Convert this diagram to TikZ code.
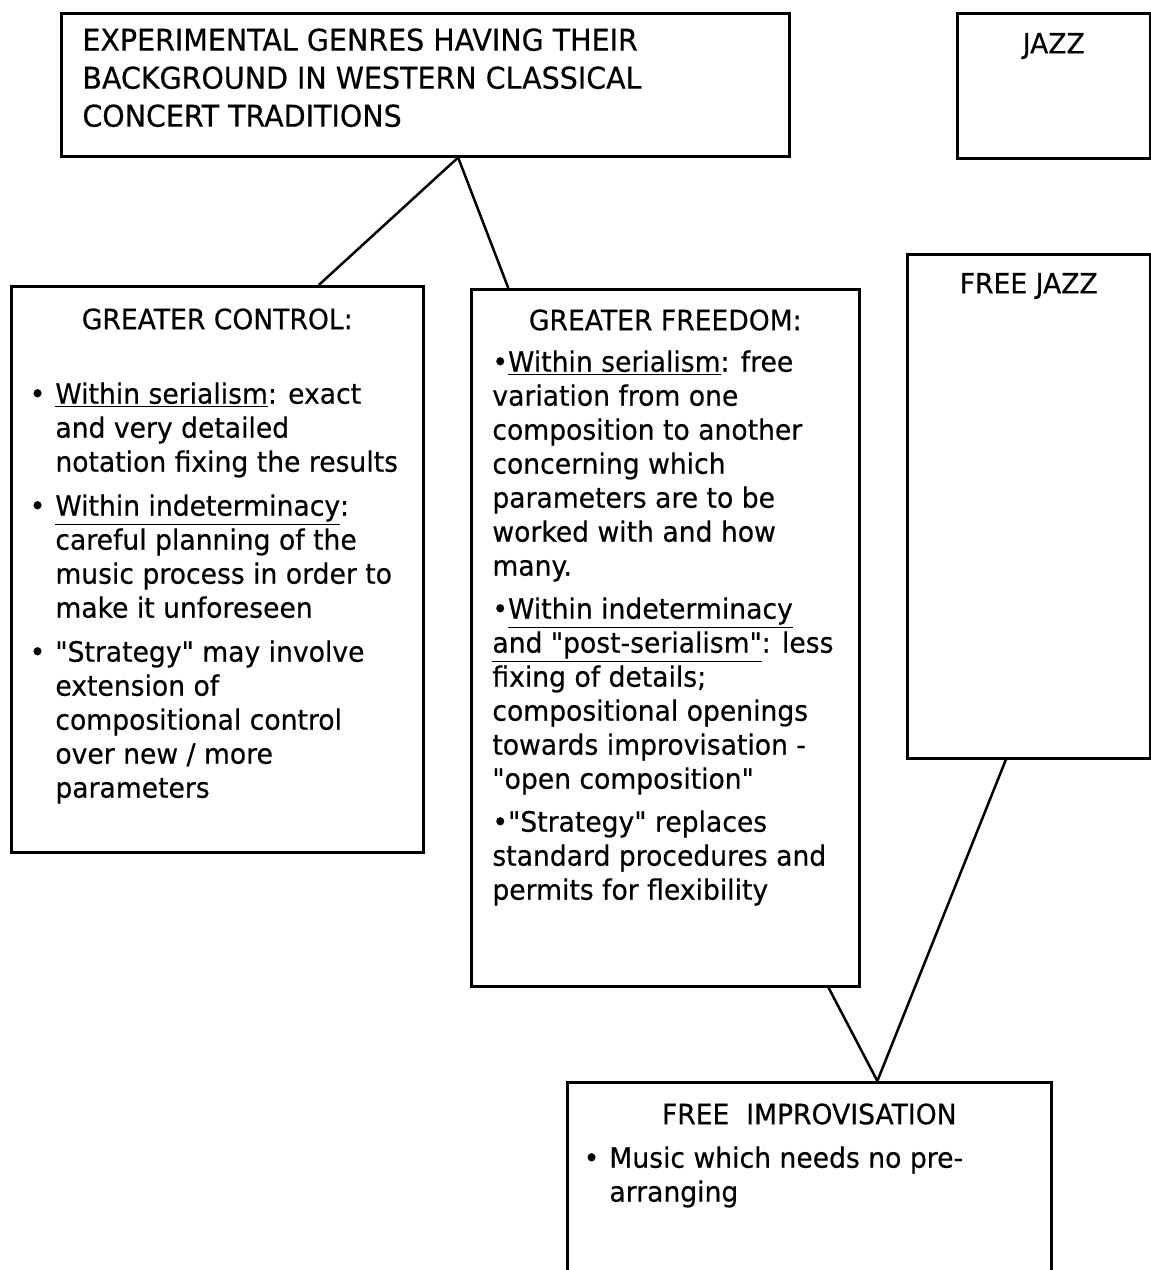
\documentclass[tikz,border=0pt]{standalone}
\usepackage{fontspec}
\setmainfont{DejaVu Sans}[FakeStretch=0.95, FakeBold=0.5, Ligatures=TeXOff]
\usetikzlibrary{calc,positioning}
\tikzset{
  box/.style={draw, line width=1.25pt, inner sep=0pt, anchor=north west},
  title/.style={inner sep=0pt, font=\fontsize{14}{17}\selectfont},
  body/.style={inner sep=0pt, anchor=north west, align=left, font=\fontsize{14}{17}\selectfont},
  link/.style={line width=1.25pt},
}
\newcommand{\bul}{\llap{\textbullet\hspace{5pt}}}

\begin{document}
\begin{tikzpicture}[x=0.5pt, y=-0.5pt]
  \useasboundingbox (0, 0) rectangle (1151, 1270);
  \clip (0, 0) rectangle (1151, 1270);

  \node [box, minimum width=364pt, minimum height=71.5pt] (top) at (60, 12) {};
  \node [box, minimum width=96.5pt, minimum height=72.5pt] (jazz) at (956, 12) {};
  \node [box, minimum width=121.5pt, minimum height=252pt] (freejazz) at (906, 253) {};
  \node [box, minimum width=206pt, minimum height=283pt] (control) at (10, 285) {};
  \node [box, minimum width=194pt, minimum height=348.5pt] (freedom) at (470, 288) {};
  \node [box, minimum width=242pt, minimum height=110pt] (impro) at (566, 1081) {};

  \node [body, font=\fontsize{15}{19}\selectfont] (toptext) at (82, 28)
    {EXPERIMENTAL GENRES HAVING THEIR\\
     BACKGROUND IN WESTERN CLASSICAL\\
     CONCERT TRADITIONS};
  \node [title] (jazztitle) at ($(jazz.north) + (0, 34)$) {JAZZ};
  \node [title] (freejazztitle) at ($(freejazz.north) + (0, 33)$) {FREE JAZZ};
  \node [title] (controltitle) at ($(control.north) + (0, 34)$) {GREATER CONTROL:};
  \node [title] (freedomtitle) at ($(freedom.north) + (0, 32)$) {GREATER FREEDOM:};
  \node [title] (improtitle) at ($(impro.north) + (0, 33)$) {FREE\ \ IMPROVISATION};

  \node [body] (controltext) at (55, 382)
    {\bul\underline{Within serialism}: exact\\
     and very detailed\\
     notation fixing the results\\[5pt]
     \bul\underline{Within indeterminacy}:\\
     careful planning of the\\
     music process in order to\\
     make it unforeseen\\[5pt]
     \bul"Strategy" may involve\\
     extension of\\
     compositional control\\
     over new / more\\
     parameters};

  \node [body] (freedomtext) at (492, 350)
    {\textbullet\underline{Within serialism}: free\\
     variation from one\\
     composition to another\\
     concerning which\\
     parameters are to be\\
     worked with and how\\
     many.\\[4.5pt]
     \textbullet\underline{Within indeterminacy}\\
     \underline{and "post-serialism"}: less\\
     fixing of details;\\
     compositional openings\\
     towards improvisation -\\
     "open composition"\\[4.5pt]
     \textbullet"Strategy" replaces\\
     standard procedures and\\
     permits for flexibility};

  \node [body] (improtext) at (609, 1146)
    {\bul Music which needs no pre-\\
     arranging};

  \draw [link] ($(top.south west)!0.545!(top.south east)$) -- ($(control.north west)!0.745!(control.north east)$);
  \draw [link] ($(top.south west)!0.545!(top.south east)$) -- ($(freedom.north west)!0.098!(freedom.north east)$);
  \draw [link] ($(freedom.south west)!0.918!(freedom.south east)$) -- ($(impro.north west)!0.64!(impro.north east)$);
  \draw [link] ($(freejazz.south west)!0.407!(freejazz.south east)$) -- ($(impro.north west)!0.64!(impro.north east)$);
\end{tikzpicture}
\end{document}
